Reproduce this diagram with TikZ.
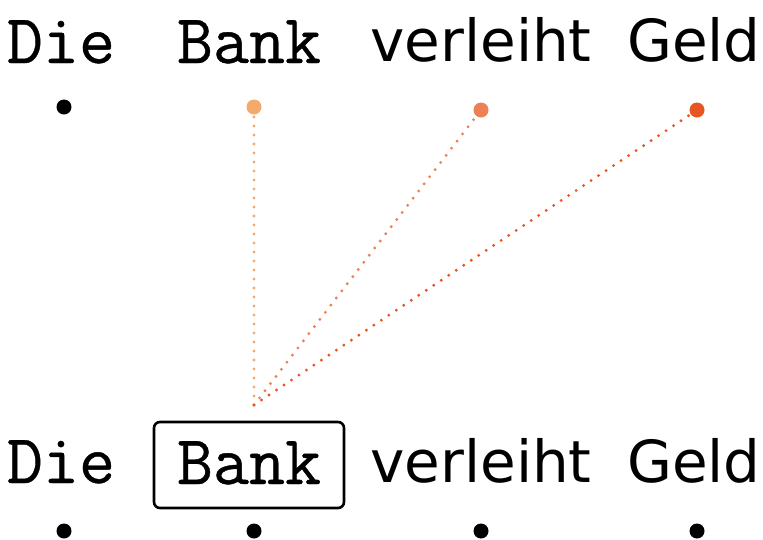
\documentclass[tikz,border=0pt]{standalone}
\usepackage{fontspec}
\newfontfamily\slabfont[FakeBold=0.6]{Latin Modern Mono}
\newfontfamily\grotfont{DejaVu Sans}
\definecolor{cbank}{HTML}{F4AA6C}
\definecolor{cverl}{HTML}{EE8055}
\definecolor{cgeld}{HTML}{E85520}
\begin{document}
\begin{tikzpicture}[x=1pt,y=-1pt,
  slab/.style={anchor=base,inner sep=0pt,font=\slabfont\fontsize{70}{70}\selectfont},
  grot/.style={anchor=base,inner sep=0pt,font=\grotfont\fontsize{58}{58}\selectfont},
  dotn/.style={circle,fill=#1,inner sep=0pt,minimum size=15pt},
  link/.style={draw=#1,line width=3.2pt,line cap=round,dash pattern=on 0pt off 9pt},
  tokbox/.style={draw,line width=2.6pt,rounded corners=6pt,minimum width=190pt,minimum height=86pt}]
\useasboundingbox (0,0) rectangle (763,539);
% top row
\node[slab] (t1) at (61,63) {Die};
\node[slab] (t2) at (249,63) {Bank};
\node[grot] (t3) at (481,61) {verleiht};
\node[grot] (t4) at (694,61) {Geld};
\node[dotn=black] (d1) at (64,107) {};
\node[dotn=cbank] (d2) at (254,107) {};
\node[dotn=cverl] (d3) at (481,110) {};
\node[dotn=cgeld] (d4) at (697,110) {};
% bottom row
\node[slab] (b1) at (61,483) {Die};
\node[tokbox] (bx) at (249,465) {};
\node[slab] (b2) at (249,484) {Bank};
\node[grot] (b3) at (481,482) {verleiht};
\node[grot] (b4) at (694,482) {Geld};
\node[dotn=black] (e1) at (64,531) {};
\node[dotn=black] (e2) at (254,531) {};
\node[dotn=black] (e3) at (481,531) {};
\node[dotn=black] (e4) at (697,531) {};
% attention lines
\coordinate (q) at (254,405);
\draw[link=cbank] (q) -- (d2);
\draw[link=cverl] (q) -- (d3);
\draw[link=cgeld] (q) -- (d4);
\end{tikzpicture}
\end{document}
